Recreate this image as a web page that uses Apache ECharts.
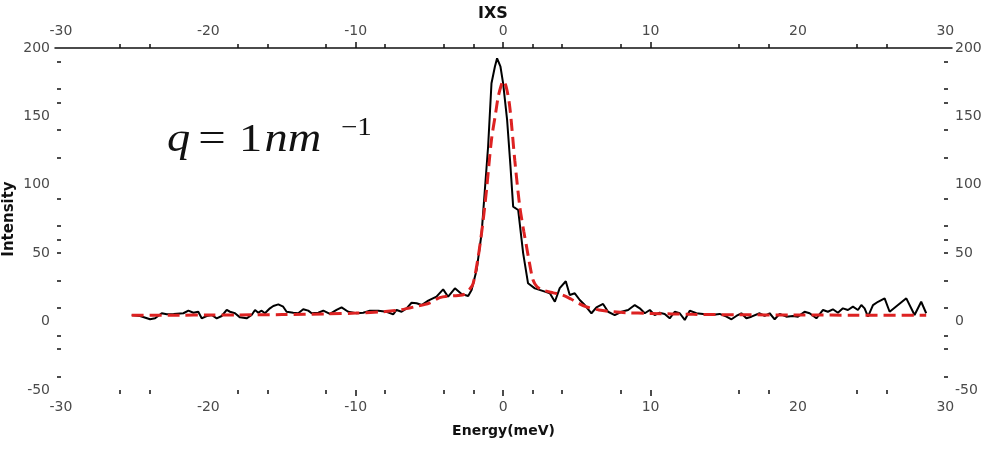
<!DOCTYPE html>
<html>
<head>
<meta charset="utf-8">
<script src="https://cdn.jsdelivr.net/npm/echarts@6/dist/echarts.min.js"></script>
<style>
  html, body { margin: 0; padding: 0; background: #fff; }
  #chart { width: 994px; height: 452px; }
</style>
</head>
<body>
<div id="chart"></div>
<script>
// measured spectrum (black)
var energy = [-25.19, -24.63, -23.95, -23.61, -23.16, -22.82, -22.35, -21.69, -21.35, -21.01,
  -20.68, -20.45, -20.11, -19.77, -19.43, -19.09, -18.75, -18.53, -18.19, -17.85,
  -17.40, -17.06, -16.83, -16.61, -16.38, -16.16, -15.82, -15.59, -15.25, -14.92,
  -14.69, -14.24, -13.90, -13.56, -13.22, -12.99, -12.54, -12.20, -11.75, -11.30,
  -10.96, -10.51, -9.94, -9.49, -9.04, -8.47, -7.91, -7.46, -7.23, -6.89,
  -6.55, -6.21, -5.87, -5.53, -5.08, -4.52, -4.07, -3.73, -3.27, -2.82,
  -2.37, -2.14, -1.80, -1.46, -1.24, -1.02, -0.79, -0.56, -0.41, -0.18,
  0.00, 0.27, 0.50, 0.68, 1.02, 1.36, 1.69, 2.15, 2.83, 3.17,
  3.51, 3.84, 4.25, 4.52, 4.86, 5.20, 5.54, 5.99, 6.33, 6.78,
  7.12, 7.57, 8.03, 8.48, 8.93, 9.27, 9.61, 9.95, 10.28, 10.62,
  10.96, 11.30, 11.64, 11.98, 12.32, 12.66, 13.11, 13.56, 14.12, 14.69,
  15.15, 15.49, 15.82, 16.16, 16.50, 16.84, 17.40, 17.74, 18.08, 18.42,
  18.76, 19.21, 19.66, 20.00, 20.45, 20.79, 21.25, 21.70, 22.03, 22.37,
  22.71, 23.05, 23.39, 23.73, 24.07, 24.30, 24.52, 24.75, 25.09, 25.43,
  25.88, 26.22, 27.35, 27.91, 28.36, 28.70];
var intensity = [4.8, 4.1, 1.7, 2.4, 6.1, 5.3, 5.6, 6.1, 8.0, 6.5,
  7.2, 2.4, 4.1, 4.8, 2.4, 4.1, 8.5, 7.2, 6.1, 3.1,
  2.4, 4.8, 8.5, 6.5, 8.0, 6.1, 9.7, 11.4, 12.6, 10.9,
  7.2, 6.5, 6.1, 9.0, 8.0, 6.1, 6.5, 8.0, 5.6, 8.5,
  10.4, 7.2, 6.1, 6.5, 8.0, 8.0, 7.2, 5.3, 8.5, 7.2,
  9.7, 13.8, 13.4, 12.1, 15.3, 18.2, 23.6, 18.2, 24.3, 20.2,
  18.7, 23.1, 37.7, 64.5, 96.2, 127.8, 174.2, 186.3, 192.5, 186.3,
  174.2, 147.4, 113.2, 84.0, 81.6, 49.9, 28.0, 24.3, 21.9, 20.7,
  14.5, 24.5, 29.5, 19.4, 20.7, 15.8, 12.1, 6.1, 10.4, 12.9,
  7.2, 4.8, 7.2, 8.5, 12.1, 9.7, 6.1, 8.5, 4.8, 6.5,
  5.6, 2.4, 7.2, 6.1, 1.2, 8.0, 6.1, 5.6, 4.8, 5.6,
  3.6, 1.7, 4.1, 6.1, 2.4, 3.6, 6.1, 4.1, 6.1, 1.7,
  5.6, 3.6, 4.1, 3.6, 7.2, 6.1, 2.4, 8.5, 7.2, 9.0,
  6.5, 9.7, 8.5, 10.9, 8.5, 12.1, 9.7, 3.6, 12.1, 14.5,
  17.0, 7.2, 17.0, 4.8, 14.5, 6.1];

// fit (red dashed)
var fitEnergy = [-25.2, -22, -20, -18, -15, -12, -10, -8, -7, -6,
  -5, -4.3, -3.5, -2.7, -2.26, -2.03, -1.69, -1.4, -1.13, -0.79,
  -0.5, -0.34, -0.15, 0, 0.2, 0.45, 0.79, 1.13, 1.4, 1.59,
  1.8, 2.03, 2.3, 2.7, 3.4, 4, 4.6, 5.1, 5.6, 6.5,
  7.5, 8.3, 10, 12.9, 16, 19.7, 24, 28.7];
var fitIntensity = [4.6, 4.7, 4.8, 4.9, 5.1, 5.6, 6.2, 7.3, 8.5, 10.8,
  13.5, 17.5, 18.8, 19.6, 23.8, 28, 47.4, 70, 96, 133,
  153, 164, 172, 176, 172, 157, 118, 84, 66, 54.8,
  42, 30.4, 25.5, 23, 21, 19.5, 16.5, 13.5, 11, 8.5,
  7.2, 6.5, 6, 5.3, 5, 4.8, 4.7, 4.6];

var xLabels = [-30, -20, -10, 0, 10, 20, 30];
var xTicks = [-26, -24, -18, -16, -12, -10, -8, -4, -2, 0, 2, 4, 8, 10, 16, 18, 24, 26];
var xMajorTicks = [-10, 0, 10];
var yLabels = [-50, 0, 50, 100, 150, 200];
var yTicks = [190, 170, 160, 140, 120, 90, 70, 60, 50, 30, 10, -10, -20, -40];

function zip(xs, ys) {
  return xs.map(function (x, i) { return [x, ys[i]]; });
}

var labelStyle = { color: '#4a4a4a', fontFamily: 'DejaVu Sans', fontSize: 14 };

function xAxisDef(pos, showLine, ticks, len, labels) {
  return {
    type: 'value', position: pos, min: -30.4, max: 30.45,
    splitLine: { show: false },
    axisLine: { show: showLine, onZero: false, lineStyle: { color: '#111', width: 1.5 } },
    axisTick: { show: true, customValues: ticks, length: len, lineStyle: { color: '#111', width: 1.5 } },
    axisLabel: labels ? Object.assign({ customValues: labels, margin: 10 }, labelStyle) : { show: false }
  };
}

function yAxisDef(pos, offset) {
  return {
    type: 'value', position: pos, min: -50, max: 200, offset: offset,
    splitLine: { show: false },
    axisLine: { show: false, onZero: false },
    axisTick: { show: true, inside: true, customValues: yTicks, length: 4, lineStyle: { color: '#111', width: 1.5 } },
    axisLabel: Object.assign({ customValues: yLabels, margin: 7 }, labelStyle)
  };
}

var chart = echarts.init(document.getElementById('chart'));

var bottomAxis = xAxisDef('bottom', false, xTicks, 4, xLabels);
bottomAxis.name = 'Energy(meV)';
bottomAxis.nameLocation = 'middle';
bottomAxis.nameGap = 34;
bottomAxis.nameMoveOverlap = false;
bottomAxis.nameTextStyle = { color: '#111', fontFamily: 'DejaVu Sans', fontWeight: 'bold', fontSize: 14 };

var leftAxis = yAxisDef('left', -2);
leftAxis.name = 'Intensity';
leftAxis.nameLocation = 'middle';
leftAxis.nameRotate = 90;
leftAxis.nameGap = 40;
leftAxis.nameMoveOverlap = false;
leftAxis.nameTextStyle = { color: '#111', fontFamily: 'DejaVu Sans', fontWeight: 'bold', fontSize: 15 };

var serif = '"Liberation Serif"';

chart.setOption({
  animation: false,
  backgroundColor: '#fff',
  title: {
    text: 'IXS', left: 473, top: 1,
    textStyle: { color: '#111', fontFamily: 'DejaVu Sans', fontWeight: 'bold', fontSize: 16 }
  },
  grid: { left: 55, right: 42, top: 48, bottom: 62, containLabel: false, outerBoundsMode: 'none' },
  xAxis: [
    xAxisDef('top', true, xTicks, 4, xLabels),
    bottomAxis,
    xAxisDef('top', false, xMajorTicks, 6, null),
    xAxisDef('bottom', false, xMajorTicks, 6, null)
  ],
  yAxis: [leftAxis, yAxisDef('right', -4)],
  graphic: [{
    type: 'group', x: 167, y: 140, scaleX: 1.16,
    children: [
      { type: 'text', style: { x: 0, y: 0, text: 'q', font: 'italic 40px ' + serif, fill: '#111', verticalAlign: 'middle' } },
      { type: 'text', style: { x: 27, y: 0, text: '=', font: '42px ' + serif, fill: '#111', verticalAlign: 'middle' } },
      { type: 'text', style: { x: 62, y: 0, text: '1', font: '40px ' + serif, fill: '#111', verticalAlign: 'middle' } },
      { type: 'text', style: { x: 84, y: 0, text: 'nm', font: 'italic 40px ' + serif, fill: '#111', verticalAlign: 'middle' } },
      { type: 'text', style: { x: 150, y: -12, text: '\u22121', font: '25px ' + serif, fill: '#111', verticalAlign: 'middle' } }
    ]
  }],
  series: [
    {
      type: 'line', name: 'IXS', data: zip(energy, intensity),
      xAxisIndex: 1, yAxisIndex: 0,
      showSymbol: false, lineStyle: { color: '#000', width: 2 }, z: 2
    },
    {
      type: 'line', name: 'fit', data: zip(fitEnergy, fitIntensity),
      xAxisIndex: 1, yAxisIndex: 0, smooth: 0.3,
      showSymbol: false, lineStyle: { color: '#dd2222', width: 3, type: [12, 6] }, z: 3
    }
  ]
});
</script>
</body>
</html>
